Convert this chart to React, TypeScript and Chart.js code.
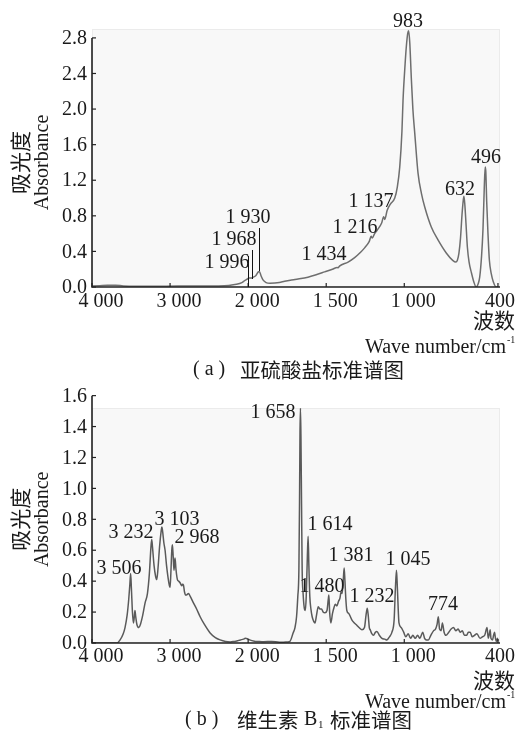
import React, { useEffect, useRef } from 'react';
import { Chart, registerables } from 'chart.js';

Chart.register(...registerables);

// ---------- data ----------
const xTickWn = [4000, 3000, 2000, 1500, 1000, 400];
const xTickLabels = ['4 000', '3 000', '2 000', '1 500', '1 000', '400'];
const yTicksA = [0, 0.4, 0.8, 1.2, 1.6, 2.0, 2.4, 2.8];
const yTicksB = [0, 0.2, 0.4, 0.6, 0.8, 1.0, 1.2, 1.4, 1.6];

// [wavenumber cm-1, absorbance]
const sulfitePoints: [number, number][] = [
  [4000, 0.01], [3900, 0.015], [3800, 0.02], [3700, 0.02], [3600, 0.012], [3450, 0.008],
  [3200, 0.008], [2900, 0.01], [2600, 0.01], [2400, 0.012], [2250, 0.018], [2150, 0.03],
  [2080, 0.05], [2040, 0.075], [2010, 0.09], [1996, 0.1], [1980, 0.1], [1968, 0.11],
  [1950, 0.13], [1935, 0.17], [1928, 0.175], [1918, 0.13], [1905, 0.08], [1885, 0.05],
  [1860, 0.042], [1800, 0.05], [1766, 0.065], [1700, 0.085], [1617, 0.11], [1560, 0.14],
  [1510, 0.17], [1460, 0.2], [1430, 0.22], [1424, 0.215], [1415, 0.235], [1360, 0.28],
  [1318, 0.33], [1280, 0.39], [1254, 0.44], [1225, 0.51], [1212, 0.57], [1205, 0.55],
  [1190, 0.6], [1169, 0.65], [1145, 0.72], [1132, 0.79], [1125, 0.76], [1110, 0.86],
  [1090, 0.93], [1061, 1.0], [1045, 1.12], [1029, 1.35], [1015, 1.75], [1008, 2.1],
  [995, 2.5], [987, 2.7], [978, 2.85], [972, 2.88], [965, 2.75], [955, 2.35], [945, 2.0],
  [933, 1.73], [912, 1.28], [890, 1.05], [869, 0.9], [827, 0.675], [784, 0.53], [730, 0.38],
  [690, 0.3], [670, 0.28], [660, 0.3], [650, 0.38], [640, 0.55], [630, 0.82], [622, 0.98],
  [618, 1.02], [612, 0.92], [605, 0.72], [596, 0.45], [585, 0.28], [570, 0.16], [555, 0.06],
  [540, 0.0], [528, 0.03], [517, 0.11], [505, 0.35], [496, 0.65], [488, 1.1], [482, 1.35],
  [478, 1.3], [472, 0.95], [464, 0.6], [455, 0.3], [443, 0.15], [430, 0.06], [411, 0.0],
  [400, 0.0],
];

const vitaminPoints: [number, number][] = [
  [4000, 0], [3800, 0], [3680, 0], [3640, 0.02], [3600, 0.06], [3577, 0.1], [3550, 0.18],
  [3530, 0.28], [3515, 0.38], [3505, 0.45], [3495, 0.35], [3482, 0.2], [3470, 0.13],
  [3460, 0.16], [3450, 0.21], [3440, 0.17], [3425, 0.12], [3400, 0.1], [3380, 0.12],
  [3350, 0.18], [3320, 0.26], [3290, 0.32], [3265, 0.45], [3245, 0.62], [3235, 0.67],
  [3225, 0.62], [3205, 0.5], [3185, 0.43], [3171, 0.41], [3155, 0.48], [3135, 0.62],
  [3115, 0.72], [3105, 0.75], [3095, 0.72], [3080, 0.65], [3064, 0.6], [3045, 0.5],
  [3025, 0.42], [3008, 0.37], [3000, 0.36], [2990, 0.45], [2978, 0.6], [2970, 0.635],
  [2960, 0.56], [2950, 0.47], [2942, 0.52], [2936, 0.55], [2925, 0.48], [2906, 0.41],
  [2890, 0.4], [2872, 0.39], [2850, 0.37], [2840, 0.38], [2829, 0.375], [2815, 0.33],
  [2800, 0.31], [2790, 0.31], [2765, 0.32], [2740, 0.3], [2701, 0.26], [2660, 0.22],
  [2615, 0.17], [2560, 0.12], [2487, 0.065], [2420, 0.035], [2359, 0.02], [2290, 0.01],
  [2230, 0.007], [2180, 0.01], [2145, 0.013], [2100, 0.02], [2060, 0.025], [2038, 0.03],
  [2010, 0.028], [1990, 0.02], [1960, 0.012], [1936, 0.01], [1900, 0.008], [1850, 0.01],
  [1800, 0.005], [1760, 0.006], [1733, 0.01], [1712, 0.065], [1700, 0.1], [1690, 0.17],
  [1682, 0.3], [1675, 0.47], [1671, 0.9], [1668, 1.35], [1665, 1.52], [1662, 1.35],
  [1658, 0.9], [1654, 0.47], [1648, 0.32], [1641, 0.23], [1634, 0.21], [1628, 0.3],
  [1621, 0.55], [1616, 0.69], [1611, 0.5], [1605, 0.3], [1598, 0.22], [1590, 0.17],
  [1580, 0.14], [1572, 0.13], [1562, 0.18], [1551, 0.235], [1540, 0.22], [1530, 0.22],
  [1520, 0.2], [1508, 0.195], [1495, 0.21], [1487, 0.28], [1483, 0.31], [1478, 0.2],
  [1470, 0.13], [1460, 0.19], [1450, 0.23], [1442, 0.25], [1432, 0.24], [1421, 0.27],
  [1412, 0.29], [1405, 0.33], [1398, 0.32], [1390, 0.42], [1385, 0.485], [1380, 0.4],
  [1374, 0.28], [1368, 0.21], [1355, 0.19], [1345, 0.17], [1336, 0.15], [1320, 0.13],
  [1304, 0.115], [1290, 0.1], [1271, 0.085], [1255, 0.1], [1245, 0.18], [1237, 0.225],
  [1230, 0.17], [1224, 0.1], [1218, 0.085], [1208, 0.06], [1197, 0.05], [1185, 0.07],
  [1175, 0.075], [1160, 0.05], [1143, 0.03], [1125, 0.025], [1111, 0.02], [1095, 0.04],
  [1079, 0.07], [1065, 0.15], [1057, 0.35], [1050, 0.47], [1044, 0.35], [1034, 0.13],
  [1020, 0.1], [1004, 0.07], [990, 0.04], [975, 0.06], [960, 0.03], [945, 0.05], [930, 0.03],
  [915, 0.05], [900, 0.03], [882, 0.07], [870, 0.03], [858, 0.02], [846, 0.02], [830, 0.05],
  [812, 0.08], [800, 0.09], [790, 0.12], [782, 0.17], [774, 0.09], [764, 0.08], [756, 0.13],
  [745, 0.07], [733, 0.05], [715, 0.07], [700, 0.09], [685, 0.1], [670, 0.08], [655, 0.09],
  [642, 0.07], [628, 0.08], [615, 0.05], [600, 0.05], [590, 0.07], [578, 0.07], [565, 0.04],
  [550, 0.05], [535, 0.06], [515, 0.03], [500, 0.04], [485, 0.05], [470, 0.1], [462, 0.03],
  [455, 0.06], [450, 0.085], [445, 0.03], [435, 0.02], [428, 0.05], [422, 0.07], [416, 0.03],
  [410, 0.01], [403, 0.03], [400, 0.01],
];

// peak annotations: label centre given in (wavenumber, absorbance) units
const sulfiteLabels = [
  { text: '983', wn: 976, abs: 2.98 },
  { text: '496', wn: 476, abs: 1.45 },
  { text: '632', wn: 643, abs: 1.09 },
  { text: '1 137', wn: 1213, abs: 0.956 },
  { text: '1 216', wn: 1316, abs: 0.664 },
  { text: '1 434', wn: 1514, abs: 0.36 },
  { text: '1 930', wn: 2002, abs: 0.776 },
  { text: '1 968', wn: 2181, abs: 0.529 },
  { text: '1 996', wn: 2271, abs: 0.27 },
];
const sulfiteLeaders = [
  { wn: 1998, from: 0.35, to: 0 },
  { wn: 1973, from: 0.416, to: 0.09 },
  { wn: 1928, from: 0.663, to: 0.18 },
];
const vitaminLabels = [
  { text: '1 658', wn: 1841, abs: 1.49 },
  { text: '1 614', wn: 1476, abs: 0.764 },
  { text: '1 381', wn: 1341, abs: 0.563 },
  { text: '1 480', wn: 1527, abs: 0.363 },
  { text: '1 232', wn: 1207, abs: 0.298 },
  { text: '1 045', wn: 976, abs: 0.538 },
  { text: '774', wn: 752, abs: 0.246 },
  { text: '3 506', wn: 3654, abs: 0.479 },
  { text: '3 232', wn: 3500, abs: 0.712 },
  { text: '3 103', wn: 2911, abs: 0.797 },
  { text: '2 968', wn: 2655, abs: 0.68 },
];

// ---------- helpers ----------
// FTIR axis with a scale change at 2000 cm-1 (high range compressed 2x)
const toU = (wn: number) => (wn >= 2000 ? (4000 - wn) / 2 : 1000 + (2000 - wn));

const SERIF = '"Liberation Serif", "Times New Roman", serif';
const CJK = '"Noto Sans CJK SC", "Noto Sans CJK JP", sans-serif';
const INK = '#1a1a1a';

type Part = { text: string; font: string; x: number; dy?: number };
type Spec = {
  yTicks: number[];
  labels: { text: string; wn: number; abs: number }[];
  leaders: { wn: number; from: number; to: number }[];
  xLabelDy: number;
  unitY1: number;
  unitY2: number;
  captionY: number;
  caption: Part[];
};

function decor(spec: Spec) {
  return {
    id: 'decor',
    beforeDatasetsDraw(chart: any) {
      const { ctx, chartArea: a } = chart;
      ctx.save();
      ctx.fillStyle = '#f8f8f8';
      ctx.fillRect(a.left, a.top, a.right - a.left, a.bottom - a.top);
      ctx.strokeStyle = '#ebebeb';
      ctx.lineWidth = 1;
      ctx.strokeRect(a.left + 0.5, a.top + 0.5, a.right - a.left - 1, a.bottom - a.top - 1);
      ctx.restore();
    },
    afterDraw(chart: any) {
      const { ctx, chartArea: a, width } = chart;
      const xs = chart.scales.x;
      const ys = chart.scales.y;
      const y0 = ys.getPixelForValue(0);
      const yTop = ys.getPixelForValue(spec.yTicks[spec.yTicks.length - 1]);
      const xL = a.left;
      ctx.save();
      // axes
      ctx.strokeStyle = '#222';
      ctx.lineWidth = 1.6;
      ctx.beginPath();
      ctx.moveTo(xL, yTop);
      ctx.lineTo(xL, y0);
      ctx.lineTo(a.right, y0);
      ctx.stroke();
      ctx.lineWidth = 1.2;
      ctx.fillStyle = INK;
      ctx.font = `20px ${SERIF}`;
      // y ticks
      ctx.textAlign = 'right';
      ctx.textBaseline = 'middle';
      spec.yTicks.forEach((v) => {
        const py = ys.getPixelForValue(v);
        ctx.beginPath();
        ctx.moveTo(xL, py);
        ctx.lineTo(xL + 4, py);
        ctx.stroke();
        ctx.fillText(v.toFixed(1), xL - 5, py + 1);
      });
      // x ticks
      ctx.textAlign = 'center';
      xTickWn.forEach((wn, i) => {
        const px = xs.getPixelForValue(toU(wn));
        ctx.beginPath();
        ctx.moveTo(px, y0);
        ctx.lineTo(px, y0 - 4);
        ctx.stroke();
        const w = ctx.measureText(xTickLabels[i]).width;
        let cx = px + 9;
        if (cx + w / 2 > width - 3) cx = width - 3 - w / 2;
        ctx.fillText(xTickLabels[i], cx, y0 + spec.xLabelDy);
      });
      // leader lines
      ctx.lineWidth = 1;
      ctx.strokeStyle = '#111';
      spec.leaders.forEach((l) => {
        const px = Math.round(xs.getPixelForValue(toU(l.wn))) + 0.5;
        ctx.beginPath();
        ctx.moveTo(px, ys.getPixelForValue(l.from));
        ctx.lineTo(px, ys.getPixelForValue(l.to));
        ctx.stroke();
      });
      // peak labels
      spec.labels.forEach((l) => {
        ctx.fillText(l.text, xs.getPixelForValue(toU(l.wn)), ys.getPixelForValue(l.abs));
      });
      // y axis title
      const midY = (y0 + yTop) / 2;
      ctx.save();
      ctx.translate(20, midY);
      ctx.rotate(-Math.PI / 2);
      ctx.font = `21px ${CJK}`;
      ctx.fillText('吸光度', 0, 0);
      ctx.restore();
      ctx.save();
      ctx.translate(43, midY);
      ctx.rotate(-Math.PI / 2);
      ctx.font = `20px ${SERIF}`;
      ctx.fillText('Absorbance', 0, 0);
      ctx.restore();
      // x axis title
      ctx.textAlign = 'right';
      ctx.font = `21px ${CJK}`;
      ctx.fillText('波数', width - 3, spec.unitY1);
      ctx.font = `20px ${SERIF}`;
      ctx.fillText('Wave number/cm', width - 12, spec.unitY2);
      ctx.textAlign = 'left';
      ctx.font = `10px ${SERIF}`;
      ctx.fillText('-1', width - 11, spec.unitY2 - 8);
      // caption
      ctx.textBaseline = 'middle';
      spec.caption.forEach((p) => {
        ctx.font = p.font;
        ctx.fillText(p.text, p.x, spec.captionY + (p.dy || 0));
      });
      ctx.restore();
    },
  };
}

function Spectrum(props: {
  points: [number, number][];
  height: number;
  yMax: number;
  padTop: number;
  padBottom: number;
  color: string;
  spec: Spec;
}) {
  const ref = useRef<HTMLCanvasElement>(null);
  useEffect(() => {
    if (!ref.current) return;
    const chart = new Chart(ref.current, {
      type: 'line',
      data: {
        datasets: [
          {
            data: props.points.map(([wn, a]) => ({ x: toU(wn), y: a })),
            borderColor: props.color,
            borderWidth: 1.5,
            pointRadius: 0,
            cubicInterpolationMode: 'monotone',
            fill: false,
          },
        ],
      },
      options: {
        animation: false,
        responsive: false,
        devicePixelRatio: 1,
        layout: { padding: { left: 92, right: 18, top: props.padTop, bottom: props.padBottom } },
        scales: {
          x: { type: 'linear', min: 0, max: 2613, display: false },
          y: { type: 'linear', min: 0, max: props.yMax, display: false },
        },
        plugins: { legend: { display: false }, tooltip: { enabled: false } },
      },
      plugins: [decor(props.spec)],
    } as any);
    return () => chart.destroy();
  }, []);
  return (
    <canvas
      ref={ref}
      width={518}
      height={props.height}
      style={{ display: 'block', width: 518, height: props.height }}
    />
  );
}

const specA: Spec = {
  yTicks: yTicksA,
  labels: sulfiteLabels,
  leaders: sulfiteLeaders,
  xLabelDy: 15,
  unitY1: 320,
  unitY2: 348,
  captionY: 370,
  caption: [
    { text: '( a )', font: `20px ${SERIF}`, x: 193 },
    { text: '亚硫酸盐标准谱图', font: `20.5px ${CJK}`, x: 240 },
  ],
};

const specB: Spec = {
  yTicks: yTicksB,
  labels: vitaminLabels,
  leaders: [],
  xLabelDy: 14,
  unitY1: 295,
  unitY2: 318,
  captionY: 335,
  caption: [
    { text: '( b )', font: `20px ${SERIF}`, x: 185 },
    { text: '维生素', font: `20.5px ${CJK}`, x: 237 },
    { text: 'B', font: `20px ${SERIF}`, x: 304 },
    { text: '1', font: `11px ${SERIF}`, x: 318, dy: 5 },
    { text: '标准谱图', font: `20.5px ${CJK}`, x: 330 },
  ],
};

export default function App() {
  return (
    <div style={{ position: 'absolute', left: 0, top: 0, width: 518, height: 737, background: '#fff' }}>
      <Spectrum points={sulfitePoints} height={385} yMax={2.9} padTop={29} padBottom={98} color="#6e6e6e" spec={specA} />
      <Spectrum points={vitaminPoints} height={352} yMax={1.52} padTop={23} padBottom={94} color="#5a5a5a" spec={specB} />
    </div>
  );
}
